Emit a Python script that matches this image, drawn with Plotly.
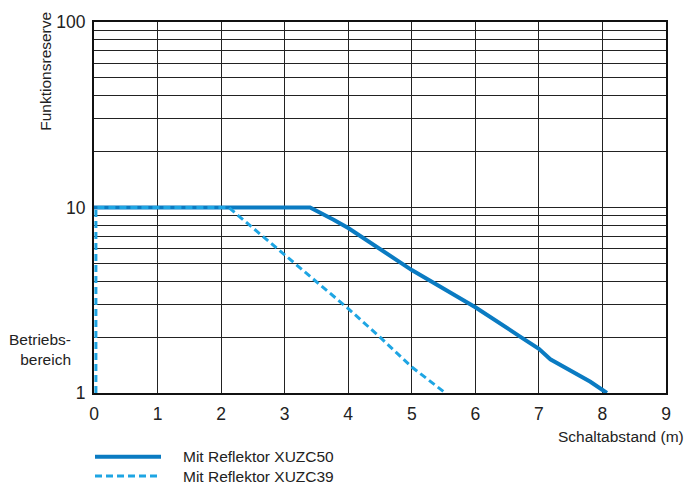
import plotly.graph_objects as go

# Data
xuzc50_name = "Mit Reflektor XUZC50"
xuzc50_x = [0.0, 3.40, 3.77, 4.0, 5.0, 6.0, 6.68, 7.0, 7.18, 7.81, 8.07]
xuzc50_y = [10.0, 10.0, 8.6, 7.75, 4.6, 2.9, 2.04, 1.73, 1.52, 1.15, 1.0]

xuzc39_name = "Mit Reflektor XUZC39"
xuzc39_x = [0.03, 0.03, 2.12, 2.93, 4.0, 4.5, 5.0, 5.53]
xuzc39_y = [1.0, 10.0, 10.0, 5.8, 2.85, 2.0, 1.38, 1.0]

x_ticks = list(range(0, 10))
y_grid = [1, 2, 3, 4, 5, 6, 7, 8, 9, 10, 20, 30, 40, 50, 60, 70, 80, 90, 100]
y_labels = {1: "1", 10: "10", 100: "100"}

solid_color = "#0a7bc2"
dash_color = "#1ea5e3"
FONT = "Liberation Sans, Arial, sans-serif"
TXT = "#222"

# body margin is removed by the post script, so page px == figure px
W, H = 688, 484
ML, MR, MT, MB = 94, 22, 20, 91
PW, PH = W - ML - MR, H - MT - MB


def px_x(px):  # page px -> paper x
    return (px - ML) / PW


def px_y(py):  # page px -> paper y
    return (H - MB - py) / PH


fig = go.Figure()
fig.add_trace(go.Scatter(x=xuzc50_x, y=xuzc50_y, mode="lines", name=xuzc50_name,
                         line=dict(color=solid_color, width=4), showlegend=False))
fig.add_trace(go.Scatter(x=xuzc39_x, y=xuzc39_y, mode="lines", name=xuzc39_name,
                         line=dict(color=dash_color, width=3, dash="7px,4px"), showlegend=False))

fig.update_layout(
    width=W, height=H,
    margin=dict(l=ML, r=MR, t=MT, b=MB),
    paper_bgcolor="white", plot_bgcolor="white",
    font=dict(family=FONT, color=TXT),
)
fig.update_xaxes(
    range=[0, 9], tickvals=x_ticks, ticktext=[str(v) for v in x_ticks],
    showgrid=True, gridcolor="#222", gridwidth=1,
    showline=True, linecolor="#111", linewidth=2, mirror=True,
    ticks="", ticklabelstandoff=4, tickfont=dict(size=17.5, family=FONT, color=TXT),
    zeroline=False,
)
fig.update_yaxes(
    type="log", range=[0, 2], tickvals=y_grid,
    ticktext=[y_labels.get(v, "") for v in y_grid],
    showgrid=True, gridcolor="#222", gridwidth=1,
    showline=True, linecolor="#111", linewidth=2, mirror=True,
    ticks="", ticklabelstandoff=3, tickfont=dict(size=17.5, family=FONT, color=TXT),
    zeroline=False,
)

# Axis titles
fig.add_annotation(text="Funktionsreserve", xref="paper", yref="paper",
                   x=px_x(46), y=px_y(70), textangle=-90, showarrow=False,
                   xanchor="center", yanchor="middle", font=dict(size=15.5, family=FONT, color=TXT))
fig.add_annotation(text="Betriebs-<br>bereich", xref="paper", yref="paper",
                   x=px_x(73), y=px_y(349), showarrow=False, align="right",
                   xanchor="right", yanchor="middle", font=dict(size=15.5, family=FONT, color=TXT))
fig.add_annotation(text="Schaltabstand (m)", xref="paper", yref="paper",
                   x=px_x(686), y=px_y(437), showarrow=False,
                   xanchor="right", yanchor="middle", font=dict(size=15.5, family=FONT, color=TXT))

# Custom legend below the chart
for i, (name, col, w, dash) in enumerate([
        (xuzc50_name, solid_color, 4, "solid"),
        (xuzc39_name, dash_color, 3, "7px,4px")]):
    ypix = 457 + 19.5 * i
    yp = px_y(ypix)
    fig.add_shape(type="line", xref="paper", yref="paper",
                  x0=px_x(95), x1=px_x(161), y0=yp, y1=yp,
                  line=dict(color=col, width=w, dash=dash))
    fig.add_annotation(text=name, xref="paper", yref="paper", x=px_x(181), y=yp,
                       showarrow=False, xanchor="left", yanchor="middle",
                       font=dict(size=15.5, family=FONT, color=TXT))

post = ("document.body.style.margin='0';"
        "document.documentElement.style.overflow='hidden';"
        "document.body.style.overflow='hidden';")
fig.write_html("out.html", default_width=f"{W}px", default_height=f"{H}px",
               post_script=post, config={"displayModeBar": False})
